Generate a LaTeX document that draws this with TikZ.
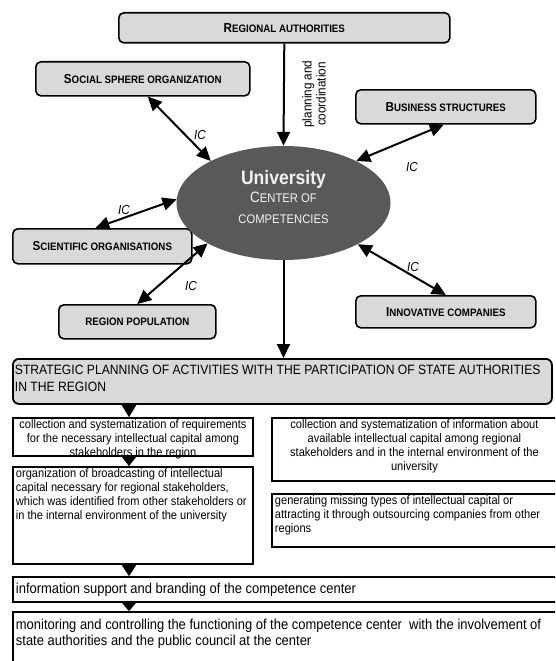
\documentclass[tikz,border=0pt]{standalone}
\usepackage{fontspec}
\setmainfont{Liberation Sans}[FakeStretch=0.9]
\usetikzlibrary{arrows.meta,shapes.geometric,calc}
\definecolor{boxgray}{HTML}{D9D9D9}
\definecolor{ellgray}{HTML}{595959}
\definecolor{elltext}{HTML}{F2F2F2}
\newcommand\fsz[2]{\fontsize{#1}{#2}\selectfont}
\newcommand\lblsc[2]{{\fsz{13}{15}#1}{\fsz{10.8}{15}#2}}
\newcommand\tbox[5]{\parbox[c][#2][t]{#1}{#3\begin{tabular}[t]{@{}#4@{}}\rule{0pt}{11pt}#5\end{tabular}\par}}
\begin{document}
\begin{tikzpicture}[x=1pt,y=-1pt,
  lbl/.style={draw,line width=1.6pt,rounded corners=5pt,fill=boxgray,inner sep=0pt,anchor=north west,align=center,font=\bfseries},
  stratbox/.style={draw,line width=1.8pt,rounded corners=6pt,fill=boxgray,inner xsep=2pt,inner ysep=0pt,anchor=north west,font=\fsz{13.5}{16.5}},
  stepbox/.style={draw,line width=1.9pt,fill=white,inner xsep=3pt,inner ysep=0pt,anchor=north west,font=\fsz{12.3}{14}},
  bigstep/.style={stepbox,font=\fsz{14.4}{15.5}},
  dbl/.style={{Triangle[length=14pt,width=13pt]}-{Triangle[length=14pt,width=13pt]},line width=2pt},
  one/.style={-{Triangle[length=14pt,width=13pt]},line width=2pt},
  tri/.style={-{Triangle[length=#1,width=17pt]},line width=0.01pt},
  ic/.style={font=\fsz{13}{15}\itshape,inner sep=0pt}]
\useasboundingbox (0,0) rectangle (555,661);
\clip (0,0) rectangle (555,661);

% stakeholder boxes
\node[lbl,minimum width=331pt,minimum height=30pt] (reg) at (118,12) {\lblsc{R}{EGIONAL AUTHORITIES}};
\node[lbl,minimum width=214pt,minimum height=34pt] (soc) at (35,61) {\lblsc{S}{OCIAL SPHERE ORGANIZATION}};
\node[lbl,minimum width=180pt,minimum height=34pt] (bus) at (355,89) {\lblsc{B}{USINESS STRUCTURES}};
\node[lbl,minimum width=179pt,minimum height=35pt] (sci) at (12,228) {\lblsc{S}{CIENTIFIC ORGANISATIONS}};
\node[lbl,minimum width=157pt,minimum height=34pt] (rp) at (58,304) {{\fsz{10.8}{15}REGION POPULATION}};
\node[lbl,minimum width=180pt,minimum height=32pt] (inn) at (355,295) {\lblsc{I}{NNOVATIVE COMPANIES}};

% university
\node[ellipse,fill=ellgray,minimum width=214pt,minimum height=114pt,inner sep=0pt,text=elltext,align=center,font=\fsz{12.5}{20}] (uni) at (283.5,203)
  {{\fsz{19.5}{20}\bfseries University}\\[-2pt]{\fsz{15}{20}C}ENTER OF\\[1.5pt]COMPETENCIES\rule[-12pt]{0pt}{12pt}};

% connectors top
\draw[one] (reg.south) -- (uni.north);
\node[rotate=90,align=center,font=\fsz{13}{14},inner sep=0pt] (plan) at (314,94) {planning and\\coordination};
\draw[dbl] ($(soc.south)+(5,0)$) -- (uni.150);
\draw[dbl] ($(bus.south)+(-2,0)$) -- (uni.30);
\draw[dbl] ($(sci.north)+(-7,0)$) -- (uni.178);
\draw[dbl] (rp.north) -- (uni.208);
\draw[dbl] (inn.north) -- (uni.-29);
\node[ic] (ic1) at (200,135) {IC};
\node[ic] (ic2) at (412,167) {IC};
\node[ic] (ic3) at (124,210) {IC};
\node[ic] (ic4) at (191,286) {IC};
\node[ic] (ic5) at (413,267) {IC};

% process
\node[stratbox] (strat) at (12,358) {\tbox{535pt}{45pt}{\raggedright}{l}{\rule{0pt}{16pt}STRATEGIC PLANNING OF ACTIVITIES WITH THE PARTICIPATION OF STATE AUTHORITIES\\IN THE REGION}};
\draw[one] (uni.south) -- (strat.north -| uni.south);

\node[stepbox] (b1) at (12,417) {\tbox{234pt}{38pt}{\centering}{c}{collection and systematization of requirements\\for the necessary intellectual capital among\\stakeholders in the region}};
\node[stepbox] (b2) at (271,417) {\tbox{279pt}{63pt}{\centering}{c}{collection and systematization of information about\\available intellectual capital among regional\\stakeholders and in the internal environment of the\\university}};
\node[stepbox] (b3) at (12,466) {\tbox{234pt}{97pt}{\raggedright}{l}{organization of broadcasting of intellectual\\capital necessary for regional stakeholders,\\which was identified from other stakeholders or\\in the internal environment of the university}};
\node[stepbox] (b4) at (271,493) {\tbox{279pt}{53pt}{\raggedright}{l}{generating missing types of intellectual capital or\\attracting it through outsourcing companies from other\\regions}};
\node[bigstep] (b5) at (12,576) {\tbox{538pt}{25pt}{\raggedright}{l}{\rule{0pt}{17pt}information support and branding of the competence center}};
\node[bigstep] (b6) at (12,611) {\tbox{538pt}{70pt}{\raggedright}{l}{\rule{0pt}{18pt}monitoring and controlling the functioning of the competence center\ \ with the involvement of\\state authorities and the public council at the center}};

\coordinate (tx) at (129,0);
\draw[tri=14pt] (strat.south -| tx) -- (b1.north -| tx);
\draw[tri=11pt] (b1.south -| tx) -- (b3.north -| tx);
\draw[tri=13pt] (b3.south -| tx) -- (b5.north -| tx);
\draw[tri=10pt] (b5.south -| tx) -- (b6.north -| tx);
\end{tikzpicture}
\end{document}
